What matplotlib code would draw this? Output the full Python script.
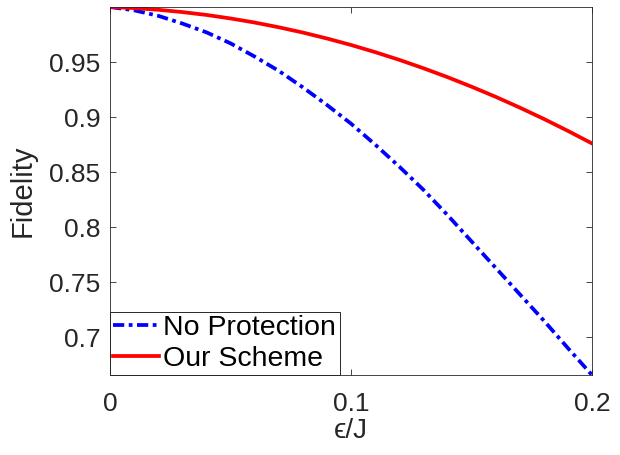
import numpy as np
import matplotlib.pyplot as plt

plt.rcParams['font.family'] = ['Liberation Sans', 'DejaVu Sans']

# data
eps = [0.0, 0.01, 0.02, 0.03, 0.04, 0.05, 0.06, 0.07, 0.08, 0.09, 0.10, 0.11, 0.12, 0.13,
       0.14, 0.15, 0.16, 0.17, 0.18, 0.19, 0.20]
f_none = [1.0, 0.997, 0.992, 0.985, 0.977, 0.967, 0.955, 0.942, 0.927, 0.911, 0.894, 0.875,
          0.855, 0.834, 0.811, 0.787, 0.763, 0.739, 0.715, 0.690, 0.6655]
f_ours = [1.0, 0.9990, 0.9975, 0.9954, 0.9928, 0.9896, 0.9859, 0.9816, 0.9768, 0.9714, 0.9655,
          0.9590, 0.9520, 0.9444, 0.9363, 0.9276, 0.9184, 0.9086, 0.8983, 0.8874, 0.876]

xticks = [0, 0.1, 0.2]
xtick_labels = ['0', '0.1', '0.2']
yticks = [0.7, 0.75, 0.8, 0.85, 0.9, 0.95]
ytick_labels = ['0.7', '0.75', '0.8', '0.85', '0.9', '0.95']

fig = plt.figure(figsize=(6.2, 4.55), dpi=100)
ax = fig.add_axes([0.1774, 0.1758, 0.7774, 0.8088])

ax.plot(eps, f_none, color='blue', lw=2.7, linestyle=(0, (3.0, 1.2, 1.0, 1.2)), label='No Protection')
ax.plot(eps, f_ours, color='red', lw=2.7, label='Our Scheme')

ax.set_xlim(0, 0.2)
ax.set_ylim(0.6655, 1.0)
ax.set_xticks(xticks)
ax.set_xticklabels(xtick_labels)
ax.set_yticks(yticks)
ax.set_yticklabels(ytick_labels)

for s in ax.spines.values():
    s.set_color('#262626')
    s.set_linewidth(0.6)
ax.tick_params(direction='in', length=4, width=0.6, top=True, right=True,
               labelsize=19, colors='#262626')
ax.tick_params(axis='x', pad=12)
ax.tick_params(axis='y', pad=7)

ax.set_xlabel('ϵ/J', fontsize=20, color='#262626', labelpad=2)
ax.set_ylabel('Fidelity', fontsize=21, color='#262626', labelpad=9)

leg = ax.legend(loc='lower left', fontsize=20.5, handlelength=1.6, handletextpad=0.15,
                labelspacing=0.15, borderpad=0.12, borderaxespad=0, fancybox=False,
                framealpha=1)
leg.get_frame().set_edgecolor('#262626')
leg.get_frame().set_linewidth(0.7)

fig.savefig('out.png', dpi=100)
